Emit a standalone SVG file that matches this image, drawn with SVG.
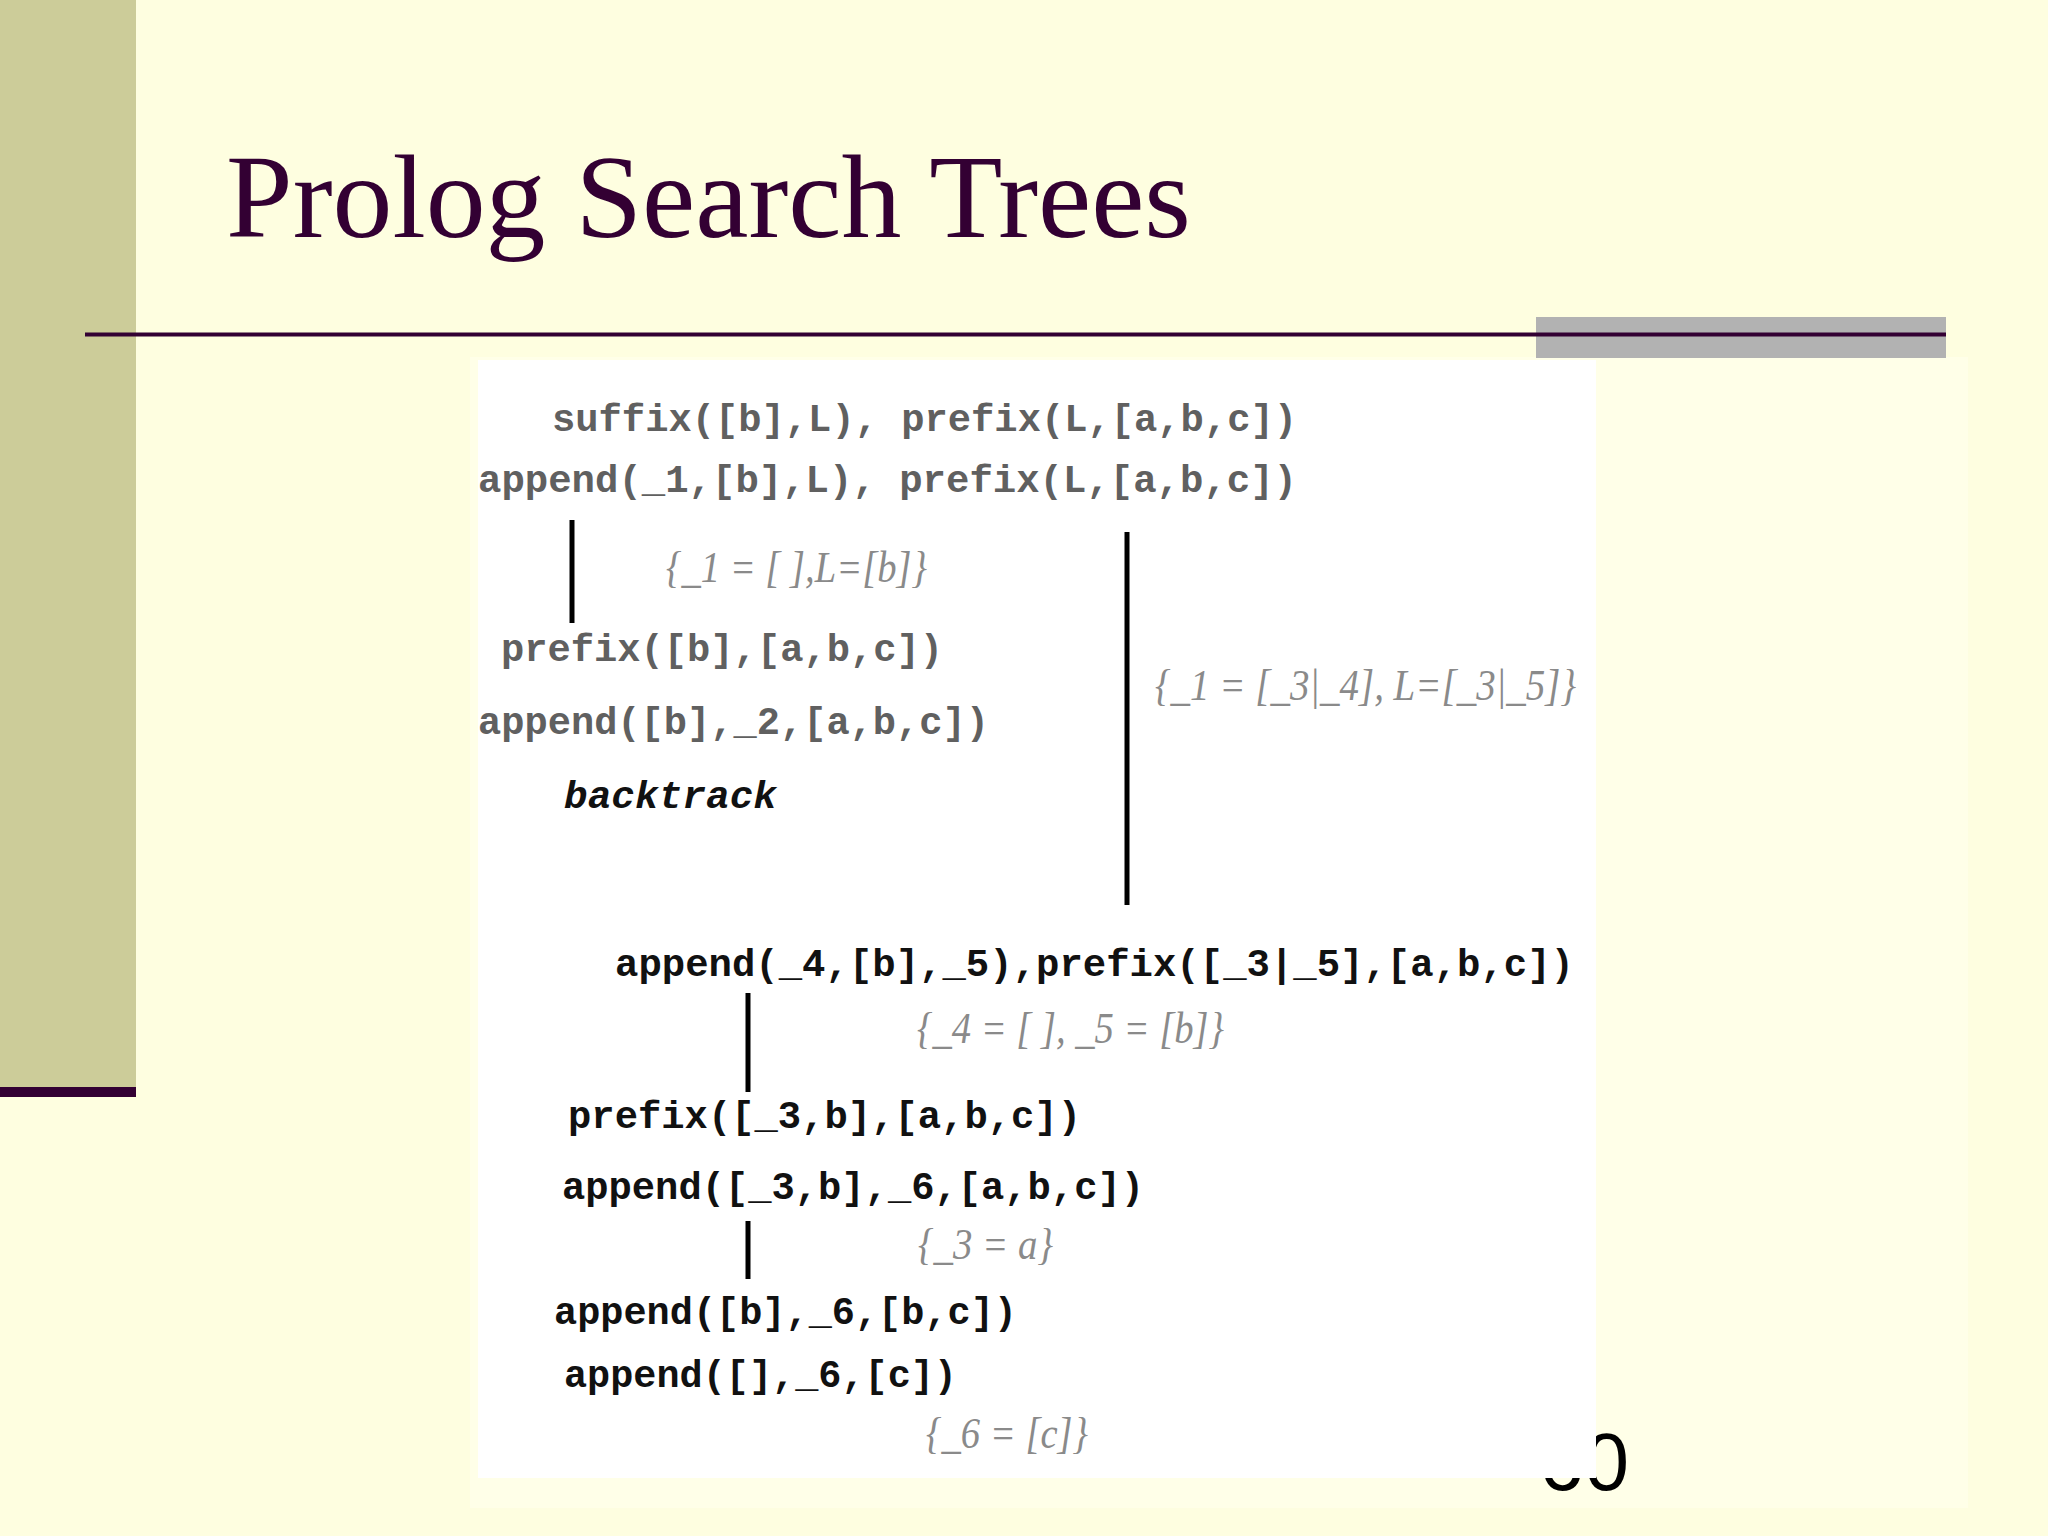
<svg xmlns="http://www.w3.org/2000/svg" width="2048" height="1536" viewBox="0 0 2048 1536">
<style>
.code{font-family:"Liberation Mono","Courier New",monospace;font-size:39px;font-weight:bold;}
.gray{fill:#606060;}
.blk{fill:#111111;}
.ann{font-family:"Liberation Serif","Times New Roman",serif;font-size:44px;font-style:italic;fill:#8a8a8a;}
.edge{stroke:#000000;stroke-width:5;fill:none;}
</style>
<rect x="0" y="0" width="2048" height="1536" fill="#FEFEE0"/>
<rect x="470" y="357" width="1498" height="1151" fill="#FFFFE8"/>
<rect x="0" y="0" width="136" height="1087" fill="#CCCC99"/>
<rect x="0" y="1087" width="136" height="10" fill="#330033"/>
<g id="title">
<text x="226" y="237" font-family="Liberation Serif,'Times New Roman',serif" font-size="119" fill="#330033" textLength="965" lengthAdjust="spacingAndGlyphs">Prolog Search Trees</text>
</g>
<rect x="1536" y="317" width="410" height="41" fill="#B2B2B2"/>
<line x1="85" y1="334.5" x2="1946" y2="334.5" stroke="#330033" stroke-width="4"/>
<g id="page-number">
<text x="1539" y="1490" font-family="Liberation Sans,Arial,sans-serif" font-size="81" fill="#000000">60</text>
</g>
<rect x="478" y="360" width="1118" height="1118" fill="#FFFFFF"/>
<g id="connectors">
<line class="edge" x1="572" y1="520" x2="572" y2="623"/>
<line class="edge" x1="1127" y1="532" x2="1127" y2="905"/>
<line class="edge" x1="748" y1="993" x2="748" y2="1092"/>
<line class="edge" x1="748" y1="1221" x2="748" y2="1279"/>
</g>
<g id="n1"><text class="code gray" x="552" y="431" textLength="745" lengthAdjust="spacingAndGlyphs">suffix([b],L), prefix(L,[a,b,c])</text></g>
<g id="n2"><text class="code gray" x="478" y="492" textLength="819" lengthAdjust="spacingAndGlyphs">append(_1,[b],L), prefix(L,[a,b,c])</text></g>
<g id="a1"><text class="ann" x="666" y="582" textLength="261" lengthAdjust="spacingAndGlyphs">{_1 = [ ],L=[b]}</text></g>
<g id="n3"><text class="code gray" x="501" y="661" textLength="442" lengthAdjust="spacingAndGlyphs">prefix([b],[a,b,c])</text></g>
<g id="n4"><text class="code gray" x="478" y="734" textLength="511" lengthAdjust="spacingAndGlyphs">append([b],_2,[a,b,c])</text></g>
<g id="n5"><text class="code blk" x="564" y="808" textLength="213" lengthAdjust="spacingAndGlyphs" font-style="italic">backtrack</text></g>
<g id="a2"><text class="ann" x="1155" y="700" textLength="421" lengthAdjust="spacingAndGlyphs">{_1 = [_3|_4], L=[_3|_5]}</text></g>
<g id="n6"><text class="code blk" x="615" y="976" textLength="959" lengthAdjust="spacingAndGlyphs">append(_4,[b],_5),prefix([_3|_5],[a,b,c])</text></g>
<g id="a3"><text class="ann" x="917" y="1043" textLength="307" lengthAdjust="spacingAndGlyphs">{_4 = [ ], _5 = [b]}</text></g>
<g id="n7"><text class="code blk" x="568" y="1128" textLength="513" lengthAdjust="spacingAndGlyphs">prefix([_3,b],[a,b,c])</text></g>
<g id="n8"><text class="code blk" x="562" y="1199" textLength="582" lengthAdjust="spacingAndGlyphs">append([_3,b],_6,[a,b,c])</text></g>
<g id="a4"><text class="ann" x="918" y="1259" textLength="135" lengthAdjust="spacingAndGlyphs">{_3 = a}</text></g>
<g id="n9"><text class="code blk" x="554" y="1324" textLength="463" lengthAdjust="spacingAndGlyphs">append([b],_6,[b,c])</text></g>
<g id="n10"><text class="code blk" x="564" y="1387" textLength="393" lengthAdjust="spacingAndGlyphs">append([],_6,[c])</text></g>
<g id="a5"><text class="ann" x="926" y="1448" textLength="162" lengthAdjust="spacingAndGlyphs">{_6 = [c]}</text></g>
</svg>
